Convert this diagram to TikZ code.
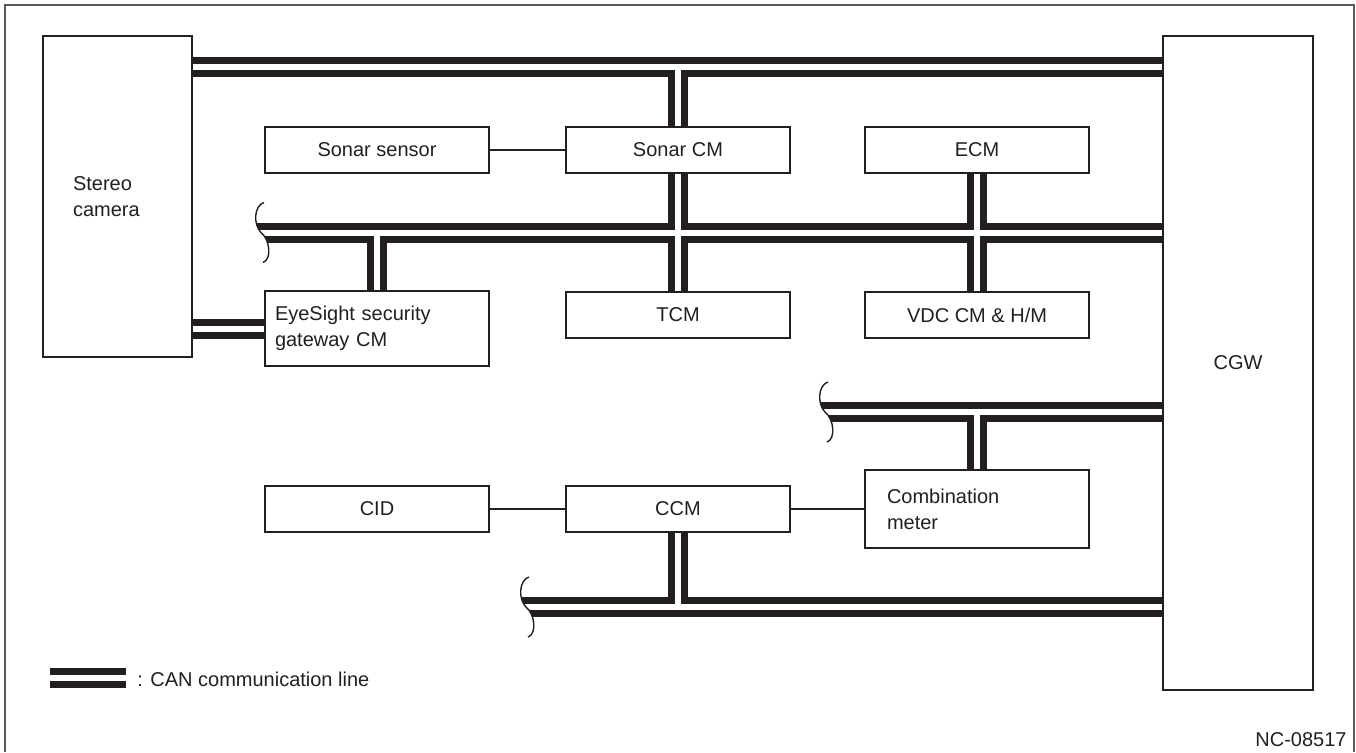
\documentclass[tikz,border=0pt]{standalone}
\usepackage{fontspec}
\setmainfont{Liberation Sans}
\definecolor{ink}{HTML}{231F20}
\tikzset{
  unit/.style={draw=ink, line width=0.8pt, minimum width=112pt, minimum height=23pt, inner sep=0pt},
  canbus/.style={draw=ink, line width=10pt},
  cangap/.style={draw=white, line width=3pt},
  link/.style={draw=ink, line width=0.6pt},
  brk/.style={draw=ink, line width=0.7pt},
  frame/.style={draw=black!65, line width=0.6pt},
}
% wavy break at the open end of a bus
\newcommand\busbreak[1]{%
  \begin{scope}[shift={(#1)}]
    \fill[white] (3,-30) .. controls (-7,-27) and (-8,-8) .. (0,0) .. controls (9,7) and (11,27) .. (2,30) -- (-20,30) -- (-20,-30) -- cycle;
    \draw[brk] (3,-30) .. controls (-7,-27) and (-8,-8) .. (0,0) .. controls (9,7) and (11,27) .. (2,30);
  \end{scope}}

\begin{document}
\begin{tikzpicture}[x=0.5pt, y=-0.5pt, font=\fontsize{10}{13}\selectfont, text=ink]
\useasboundingbox (0,0) rectangle (1356,752);
\draw[frame] (5,752) -- (5,5) -- (1354,5) -- (1354,752);

\node[unit, minimum width=74.5pt, minimum height=160.5pt, align=left, text width=44.5pt, inner xsep=15pt] (cam) at (117.5,196.5) {Stereo\\camera};
\node[unit, minimum width=75pt, minimum height=327pt] (cgw) at (1238,363) {CGW};
\node[unit] (sns) at (377,150) {Sonar sensor};
\node[unit] (scm) at (678,150) {Sonar CM};
\node[unit] (ecm) at (977,150) {ECM};
\node[unit, minimum height=37.5pt, align=left, text width=102pt, inner xsep=5pt] (esg) at (377,328.5) {EyeSight security\\gateway CM};
\node[unit] (tcm) at (678,315) {TCM};
\node[unit] (vdc) at (977,315) {VDC CM \& H/M};
\node[unit, minimum height=39pt, align=left, text width=90pt, inner xsep=11pt] (cmb) at (977,509) {Combination\\meter};
\node[unit] (cid) at (377,509) {CID};
\node[unit] (ccm) at (678,509) {CCM};

\coordinate (y1) at (0,67);
\coordinate (b2) at (261,232.5);
\coordinate (b3) at (825,412);
\coordinate (b4) at (526,607);

\foreach \s in {canbus,cangap}
  \draw[\s] (cam.east |- y1) -- (cgw.west |- y1)
    ([xshift=-5pt]b2) -- (cgw.west |- b2)
    ([xshift=-5pt]b3) -- (cgw.west |- b3)
    ([xshift=-5pt]b4) -- (cgw.west |- b4)
    (cam.east |- esg.west) -- (esg.west)
    (scm.north) -- (scm.north |- y1)
    (scm.south) -- (tcm.north)
    (ecm.south) -- (vdc.north)
    (esg.north) -- (esg.north |- b2)
    (cmb.north) -- (cmb.north |- b3)
    (ccm.south) -- (ccm.south |- b4);
\busbreak{b2}
\busbreak{b3}
\busbreak{b4}

\draw[link] (sns) -- (scm);
\draw[link] (cid) -- (ccm);
\draw[link] (ccm) -- (cmb);

\coordinate (l1) at (50,678);
\coordinate (l2) at (126,678);
\foreach \s in {canbus,cangap}
  \draw[\s] (l1) -- (l2);
\node[anchor=west, inner sep=0pt] (lgd) at (137,679) {: CAN communication line};
\node[anchor=east, inner sep=0pt] (code) at (1347,740) {NC-08517};
\end{tikzpicture}
\end{document}
